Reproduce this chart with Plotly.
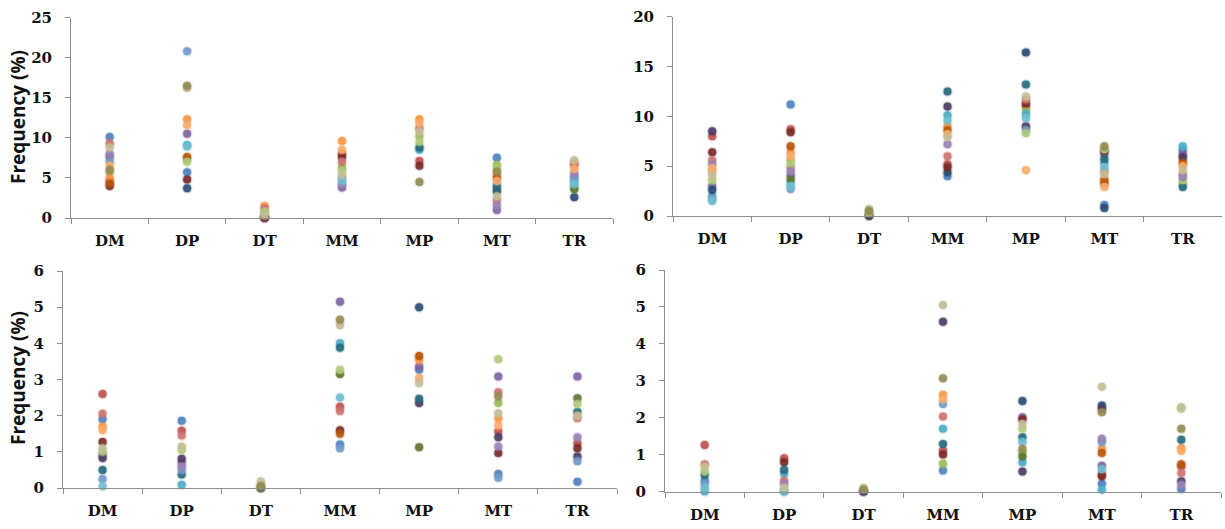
import plotly.graph_objects as go

# Frequency (%) per sample (rows) across the seven classes (columns)
categories = ["DM", "DP", "DT", "MM", "MP", "MT", "TR"]

# Upper-left panel
panel_a = [
    [10.1, 5.7, None, None, None, 7.5, 5.2],
    [4.6, None, 0.1, 8.0, 7.1, None, 6.6],
    [5.7, 7.3, 0.6, 6.3, 10.2, 6.6, 3.9],
    [7.6, 10.5, None, 3.8, None, 1.0, None],
    [None, 9.1, None, None, 8.5, 4.2, 4.5],
    [5.0, 12.3, 1.5, 9.6, 12.3, 5.5, None],
    [None, 3.7, 0.05, None, None, 3.3, 2.6],
    [4.0, 4.8, 0.0, 7.6, 6.5, None, None],
    [None, None, None, None, None, None, 3.6],
    [None, None, None, None, None, None, None],
    [None, None, None, None, 8.8, 3.8, None],
    [4.3, 7.6, None, None, None, 5.0, None],
    [7.0, 20.8, None, 5.0, None, None, 4.8],
    [9.3, None, 1.2, 7.0, 11.2, 2.2, 6.9],
    [None, 7.0, 0.8, 5.9, 9.5, 6.2, None],
    [8.0, None, None, 4.2, None, 1.6, 5.6],
    [None, 8.9, None, 4.6, None, None, 4.2],
    [6.5, 11.6, None, 8.5, 11.8, 4.6, 6.1],
    [8.8, 16.2, 0.3, 5.4, 10.8, 2.7, 7.2],
    [6.0, 16.5, None, None, 4.5, 5.8, None],
]

# Upper-right panel
panel_b = [
    [None, 11.2, None, 4.0, None, 1.1, 6.6],
    [8.0, 8.7, None, 5.2, 11.0, 3.2, None],
    [None, 5.6, 0.15, None, 10.6, None, 3.3],
    [3.0, 4.1, None, None, None, 6.2, 6.2],
    [2.0, 3.3, None, 10.1, 10.2, 5.3, 7.0],
    [4.5, 6.4, None, 9.0, None, 3.8, 5.6],
    [2.6, None, None, 4.4, 16.4, 0.8, None],
    [6.4, 8.4, None, 4.9, 11.3, 6.5, None],
    [None, 3.7, 0.05, None, None, None, None],
    [8.5, None, 0.0, 11.0, 9.0, None, 5.9],
    [None, None, None, 12.5, 13.2, 5.7, 2.9],
    [None, 7.0, None, 8.6, None, 3.5, 5.3],
    [1.7, 2.7, None, None, 8.6, None, None],
    [5.6, 4.9, None, 6.0, 11.7, 4.5, 4.2],
    [3.6, 5.2, 0.3, None, 8.3, 6.7, 3.6],
    [5.2, 4.5, None, 7.2, None, None, 3.9],
    [1.5, 3.0, None, 9.6, 9.8, 4.9, None],
    [4.8, 6.0, None, 8.2, 4.6, 2.9, 5.0],
    [4.1, None, 0.7, 7.9, 12.0, 4.2, 4.6],
    [None, None, 0.5, None, None, 7.0, None],
]

# Lower-left panel
panel_c = [
    [1.9, 1.86, None, 1.2, 3.27, 0.39, 0.17],
    [2.6, 1.58, None, 2.25, None, 1.56, 1.24],
    [None, None, None, None, None, 2.35, None],
    [0.92, 0.69, None, 5.15, 3.36, 3.08, 3.08],
    [None, 0.09, None, 4.0, None, None, None],
    [1.7, None, None, None, 3.54, 1.93, None],
    [None, None, 0.0, None, 5.0, None, None],
    [1.27, None, None, 1.6, None, 0.97, 1.1],
    [None, None, 0.0, 3.15, 1.13, None, 2.48],
    [0.83, 0.81, None, None, 2.35, 1.4, 0.87],
    [0.5, 0.37, None, 3.88, 2.47, None, 2.1],
    [None, None, None, 1.5, 3.65, None, None],
    [0.25, 0.5, None, 1.1, None, 0.28, 0.74],
    [2.05, 1.45, None, 2.13, None, 2.65, 1.93],
    [1.0, 1.05, 0.1, 3.27, None, 3.56, 2.32],
    [None, 0.59, None, None, None, 1.15, 1.4],
    [0.05, None, None, 2.5, None, None, None],
    [1.6, None, None, None, 3.04, 1.73, None],
    [1.1, 1.15, 0.18, 4.5, 2.9, 2.07, 2.0],
    [None, None, 0.05, 4.65, None, 2.53, None],
]

# Lower-right panel
panel_d = [
    [0.3, 0.0, None, 0.57, None, 0.21, 0.07],
    [1.26, 0.9, None, 1.11, None, 0.48, 0.68],
    [None, None, None, 0.75, 1.06, None, None],
    [None, None, None, None, 2.01, 0.7, None],
    [0.0, 0.48, None, 1.7, 0.79, 0.05, None],
    [None, None, None, 2.62, None, 1.16, 1.17],
    [None, None, 0.0, None, 2.45, 2.33, None],
    [None, 0.79, None, 1.0, 1.95, 0.41, None],
    [None, None, None, None, 0.95, None, None],
    [None, None, 0.0, 4.6, 0.54, 2.24, 0.28],
    [0.45, 0.59, None, 1.29, 1.47, None, 1.4],
    [None, None, None, None, None, 1.04, 0.74],
    [0.2, None, None, 2.37, None, 1.34, None],
    [0.74, 0.29, None, 2.03, None, None, 0.5],
    [0.55, None, None, None, 1.7, None, 2.25],
    [None, 0.2, None, None, None, 1.43, 0.18],
    [0.1, 0.02, None, None, 1.34, 0.6, None],
    [None, None, None, 2.5, None, None, 1.1],
    [0.68, 0.1, 0.1, 5.05, 1.83, 2.84, 2.28],
    [None, None, 0.05, 3.07, 1.15, 2.15, 1.7],
]

y_max = [25, 20, 6, 6]
y_step = [5, 5, 1, 1]

palette = [
    "#4F81BD", "#C0504D", "#9BBB59", "#8064A2", "#4BACC6",
    "#F79646", "#2C4D75", "#772C2A", "#5F7530", "#4D3B62",
    "#276A7C", "#B65708", "#729ACA", "#CD7371", "#AFC97A",
    "#9983B5", "#6FBDD1", "#F9AB6B", "#C4BD97", "#948A54",
]

W, H = 1225, 529


def rgba(hex_color, a):
    h = hex_color.lstrip("#")
    r, g, b = int(h[0:2], 16), int(h[2:4], 16), int(h[4:6], 16)
    return f"rgba({r},{g},{b},{a})"


# plot-area boxes in pixels: left, right, top, bottom
boxes = [
    (71, 613, 17.5, 218),
    (673, 1222, 16.7, 216),
    (63, 617, 271, 488),
    (665, 1221, 270, 491.5),
]

panels = [panel_a, panel_b, panel_c, panel_d]

fig = go.Figure()
layout = {}
tick_font = dict(family="DejaVu Serif", size=15, color="#111111", weight="bold")
axis_grey = "#8e8e8e"

for p, (data, box) in enumerate(zip(panels, boxes)):
    n = "" if p == 0 else str(p + 1)
    xa, ya = "x" + n, "y" + n
    for i, row in enumerate(data):
        xs = [c for c, v in zip(categories, row) if v is not None]
        ys = [v for v in row if v is not None]
        if not xs:
            continue
        col = palette[i % len(palette)]
        fig.add_trace(go.Scatter(
            x=xs, y=ys, mode="markers", xaxis=xa, yaxis=ya,
            cliponaxis=False, showlegend=False, hoverinfo="x+y",
            marker=dict(size=8, color=col, opacity=0.92,
                        line=dict(width=2.5, color=rgba(col, 0.28))),
        ))
    l, r, t, b = box
    layout["xaxis" + n] = dict(
        domain=[l / W, r / W], anchor=ya, type="category",
        categoryorder="array", categoryarray=categories,
        range=[-0.5, 6.5], showline=True, linecolor=axis_grey, linewidth=1,
        ticks="outside", tickson="boundaries", ticklen=5, tickcolor=axis_grey,
        tickfont=tick_font, ticklabelstandoff=9, automargin=False,
        showgrid=False, zeroline=False, fixedrange=True,
    )
    layout["yaxis" + n] = dict(
        domain=[1 - b / H, 1 - t / H], anchor=xa,
        range=[0, y_max[p]], dtick=y_step[p], tick0=0,
        showline=True, linecolor=axis_grey, linewidth=1,
        ticks="outside", ticklen=5, tickcolor=axis_grey,
        tickfont=tick_font, ticklabelstandoff=10, automargin=False,
        showgrid=False, zeroline=False, fixedrange=True,
    )

annotations = []
for yc in (117, 378):
    annotations.append(dict(
        text="Frequency (%)", textangle=-90, showarrow=False,
        xref="paper", yref="paper", x=18 / W, y=1 - yc / H,
        xanchor="center", yanchor="middle",
        font=dict(family="Open Sans", size=19, color="#111111", weight="bold"),
    ))

fig.update_layout(
    **layout,
    annotations=annotations,
    width=W, height=H,
    margin=dict(l=0, r=0, t=0, b=0, autoexpand=False),
    paper_bgcolor="white", plot_bgcolor="white",
    showlegend=False,
)

fig.write_html("out.html")
